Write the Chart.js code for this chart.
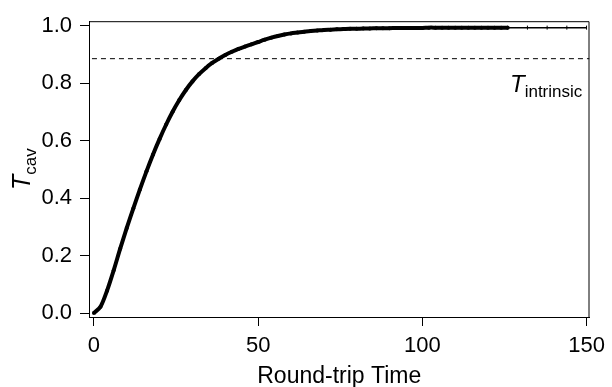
<!DOCTYPE html>
<html lang="en">
<head>
    <meta charset="UTF-8">
    <title>Cavity transmission vs round-trip time</title>
    <script src="https://cdn.jsdelivr.net/npm/chart.js"></script>
    <style>
        html, body { margin: 0; padding: 0; background: #fff; }
    </style>
</head>
<body>
    <canvas id="tcavChart" width="612" height="387"></canvas>

    <script>
        // Curve (every 2 round trips up to 126, then sparse tail)
        const roundTrips = [0, 2, 4, 6, 8, 10, 12, 14, 16, 18, 20, 22, 24, 26, 28, 30,
            32, 34, 36, 38, 40, 42, 44, 46, 48, 50, 52, 54, 56, 58, 60, 62,
            64, 66, 68, 70, 72, 74, 76, 78, 80, 82, 84, 86, 88, 90, 92, 94,
            96, 98, 100, 102, 104, 106, 108, 110, 112, 114, 116, 118, 120, 122, 124, 126];
        const tCav = [0.000, 0.022, 0.078, 0.148, 0.224, 0.296, 0.364, 0.430, 0.493, 0.552, 0.606, 0.656, 0.701, 0.741, 0.776, 0.806,
            0.831, 0.852, 0.870, 0.885, 0.898, 0.909, 0.919, 0.927, 0.935, 0.943, 0.951, 0.958, 0.964, 0.969, 0.973, 0.976,
            0.979, 0.981, 0.983, 0.985, 0.986, 0.987, 0.988, 0.989, 0.989, 0.990, 0.990, 0.991, 0.991, 0.991, 0.992, 0.992,
            0.992, 0.992, 0.992, 0.993, 0.993, 0.993, 0.993, 0.993, 0.993, 0.993, 0.993, 0.993, 0.993, 0.993, 0.993, 0.993];
        const tailTrips = [126, 132, 138, 144, 150];
        const tailTCav = [0.993, 0.993, 0.993, 0.993, 0.993];

        // Dashed reference level
        const intrinsicX = [-0.6, 150.9];
        const intrinsicT = [0.885, 0.885];

        const xTicks = [0, 50, 100, 150];
        const yTicks = [0.0, 0.2, 0.4, 0.6, 0.8, 1.0];

        const FONT = '"Liberation Sans", Arial, sans-serif';
        Chart.defaults.font.family = FONT;
        Chart.defaults.color = '#000';

        const toPoints = (xs, ys) => xs.map((x, i) => ({ x: x, y: ys[i] }));

        // frame on top/right plus the italic T labels with subscripts
        const frameAndLabels = {
            id: 'frameAndLabels',
            afterDraw(chart) {
                const { ctx, chartArea: a } = chart;
                ctx.save();
                ctx.strokeStyle = '#000';
                ctx.lineWidth = 1;
                ctx.beginPath();
                ctx.moveTo(a.left, a.top + 0.5);
                ctx.lineTo(a.right - 0.5, a.top + 0.5);
                ctx.lineTo(a.right - 0.5, a.bottom);
                ctx.stroke();

                ctx.fillStyle = '#000';
                ctx.textBaseline = 'alphabetic';
                ctx.textAlign = 'left';

                // T_intrinsic
                ctx.font = 'italic 24px ' + FONT;
                ctx.fillText('T', 510, 92);
                let w = ctx.measureText('T').width;
                ctx.font = '17px ' + FONT;
                ctx.fillText('intrinsic', 510 + w, 97);

                // y axis title T_cav
                ctx.translate(30, 190);
                ctx.rotate(-Math.PI / 2);
                ctx.font = 'italic 25px ' + FONT;
                ctx.fillText('T', 0, 0);
                w = ctx.measureText('T').width;
                ctx.font = '17px ' + FONT;
                ctx.fillText('cav', w, 6);
                ctx.restore();
            }
        };

        new Chart(document.getElementById('tcavChart'), {
            type: 'line',
            data: {
                datasets: [
                    {
                        data: toPoints(roundTrips, tCav),
                        borderColor: '#000',
                        backgroundColor: '#000',
                        borderWidth: 4,
                        pointRadius: 2,
                        pointBorderWidth: 0,
                        tension: 0.3
                    },
                    {
                        data: toPoints(tailTrips, tailTCav),
                        borderColor: '#000',
                        backgroundColor: '#000',
                        borderWidth: 1.5,
                        pointStyle: 'line',
                        rotation: 90,
                        pointRadius: 2,
                        pointBorderWidth: 1
                    },
                    {
                        data: toPoints(intrinsicX, intrinsicT),
                        borderColor: '#000',
                        borderWidth: 1,
                        borderDash: [5, 4],
                        pointRadius: 0
                    }
                ]
            },
            options: {
                responsive: false,
                animation: false,
                layout: { padding: { top: 17, right: 17, left: 0, bottom: 0 } },
                plugins: {
                    legend: { display: false },
                    tooltip: { enabled: false }
                },
                scales: {
                    x: {
                        type: 'linear',
                        min: -1.5,
                        max: 150.9,
                        afterBuildTicks: (scale) => { scale.ticks = xTicks.map(v => ({ value: v })); },
                        afterFit: (scale) => { scale.height = 70; },
                        grid: { drawOnChartArea: false, tickLength: 9, color: '#000' },
                        border: { color: '#000', width: 1 },
                        ticks: { font: { size: 22 }, padding: 7, maxRotation: 0, color: '#000' },
                        title: { display: true, text: 'Round-trip Time', font: { size: 23 }, padding: { top: 0, bottom: -3 }, color: '#000' }
                    },
                    y: {
                        type: 'linear',
                        min: -0.0137,
                        max: 1.0154,
                        afterBuildTicks: (scale) => { scale.ticks = yTicks.map(v => ({ value: v })); },
                        afterFit: (scale) => { scale.width = 89; },
                        grid: { drawOnChartArea: false, tickLength: 9, color: '#000' },
                        border: { color: '#000', width: 1 },
                        ticks: {
                            font: { size: 22 },
                            padding: 8,
                            color: '#000',
                            callback: (v) => v.toFixed(1)
                        }
                    }
                }
            },
            plugins: [frameAndLabels]
        });
    </script>
</body>
</html>
